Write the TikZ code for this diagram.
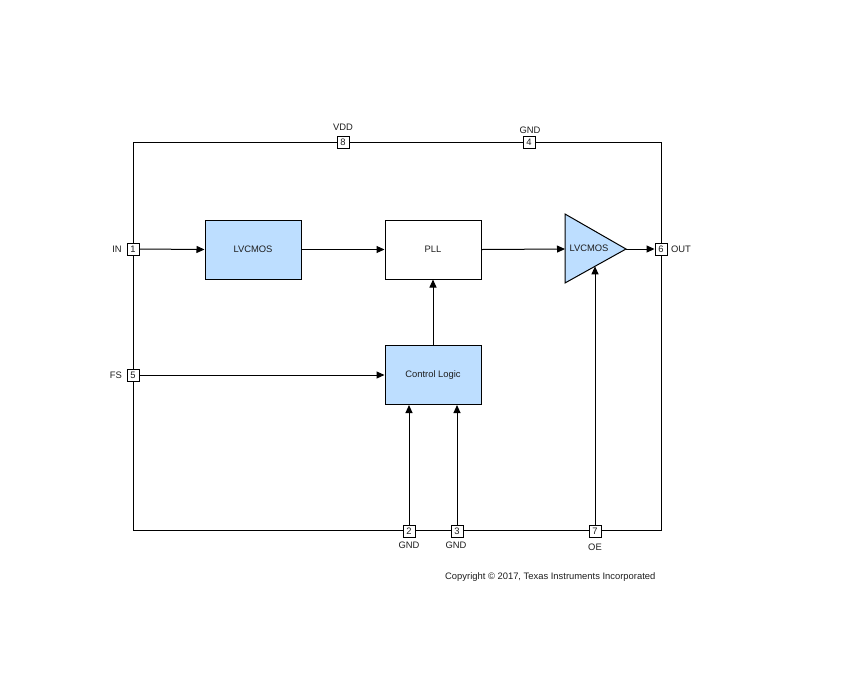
\documentclass[tikz,border=0pt]{standalone}
\usepackage{fontspec}
\setmainfont{Liberation Sans}
\usetikzlibrary{arrows.meta}
\definecolor{blk}{RGB}{189,222,255}
\definecolor{txt}{RGB}{30,30,30}
\begin{document}
\begin{tikzpicture}[x=1pt,y=-1pt,
  every node/.style={font=\fontsize{9.4}{11}\selectfont,text=txt},
  wire/.style={line width=1pt,draw=black},
  arr/.style={wire,-{Triangle[length=8pt,width=7pt]}},
  pin/.style={draw=black,line width=0.9pt,fill=white,minimum width=12pt,minimum height=12pt,inner sep=0pt},
  blockbox/.style={draw=black,line width=1pt,minimum width=96pt,minimum height=59pt,inner sep=0pt},
  lbl/.style={inner sep=0pt}]
\useasboundingbox (0,0) rectangle (859,673);
% outer frame
\draw[wire] (133,142) rectangle (661,530);
% blocks
\node[blockbox,fill=blk] (lv) at (253,249.5) {LVCMOS};
\node[blockbox,fill=white] (pll) at (433,249.5) {PLL};
\node[blockbox,fill=blk] (cl) at (433,375) {Control Logic};
% buffer triangle
\coordinate (bufL) at (565,249);
\coordinate (bufT) at (626,249);
\coordinate (bufB) at (595,266.3);
\draw[wire,fill=blk,line join=miter] (565,214) -- (626,249) -- (565,283) -- cycle;
\node (buftxt) at (589,248) {LVCMOS};
% pins
\node[pin] (p8) at (343,142) {8};
\node[pin] (p4) at (529,142) {4};
\node[pin] (p1) at (133,249) {1};
\node[pin] (p5) at (133,375) {5};
\node[pin] (p6) at (661,249) {6};
\node[pin] (p2) at (409,531) {2};
\node[pin] (p3) at (457,531) {3};
\node[pin] (p7) at (595,531) {7};
% pin labels
\node[lbl] (lvdd) at (343,127) {VDD};
\node[lbl] (lgnd4) at (530,130) {GND};
\node[lbl] (lin) at (117,249) {IN};
\node[lbl] (lfs) at (116,375) {FS};
\node[lbl] (lout) at (681,249) {OUT};
\node[lbl] (lgnd2) at (409,545) {GND};
\node[lbl] (lgnd3) at (456,545) {GND};
\node[lbl] (loe) at (595,547) {OE};
% connectors
\draw[arr] (p1.east) -- (lv.west);
\draw[arr] (lv.east) -- (pll.west);
\draw[arr] (pll.east) -- (bufL);
\draw[arr] (bufT) -- (p6.west);
\draw[arr] (cl.north) -- (pll.south);
\draw[arr] (p5.east) -- (cl.west);
\draw[arr] (p2.north) -- (p2.north |- cl.south);
\draw[arr] (p3.north) -- (p3.north |- cl.south);
\draw[arr] (p7.north) -- (bufB);
% copyright
\node[lbl,anchor=west] (copy) at (445,577) {Copyright © 2017, Texas Instruments Incorporated};
\end{tikzpicture}
\end{document}
